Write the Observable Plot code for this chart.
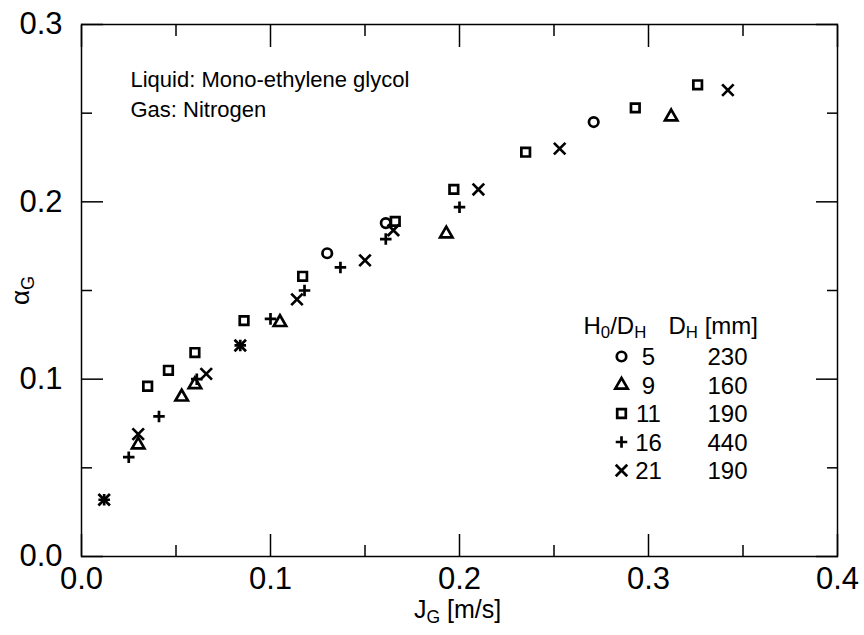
<!DOCTYPE html>
<html><head><meta charset="utf-8">
<script src="https://cdn.jsdelivr.net/npm/d3@7"></script>
<script src="https://cdn.jsdelivr.net/npm/@observablehq/plot@0.6"></script>
<style>
body{margin:0;background:#fff;}
#chart svg{font-family:"Liberation Sans",Arial,Helvetica,sans-serif;}
</style></head><body><div id="chart"></div>
<script>
// ---- data ----
const seriesKeys = ["5", "9", "11", "16", "21"];          // H0/DH
const seriesDH = ["230", "160", "190", "440", "190"];      // DH [mm]
const seriesSymbols = ["circle", "triangle", "square", "plus", "times"];

const jg_5 = [0.130, 0.161, 0.271];
const ag_5 = [0.171, 0.188, 0.245];
const jg_9 = [0.030, 0.053, 0.060, 0.105, 0.193, 0.312];
const ag_9 = [0.063, 0.090, 0.097, 0.132, 0.182, 0.248];
const jg_11 = [0.035, 0.046, 0.060, 0.086, 0.117, 0.166, 0.197, 0.235, 0.293, 0.326];
const ag_11 = [0.096, 0.105, 0.115, 0.133, 0.158, 0.189, 0.207, 0.228, 0.253, 0.266];
const jg_16 = [0.012, 0.025, 0.041, 0.061, 0.084, 0.100, 0.118, 0.137, 0.161, 0.200];
const ag_16 = [0.032, 0.056, 0.079, 0.100, 0.119, 0.134, 0.150, 0.163, 0.179, 0.197];
const jg_21 = [0.012, 0.030, 0.066, 0.084, 0.114, 0.150, 0.165, 0.210, 0.253, 0.342];
const ag_21 = [0.032, 0.069, 0.103, 0.119, 0.145, 0.167, 0.184, 0.207, 0.230, 0.263];

const xMajor = [0, 0.1, 0.2, 0.3, 0.4];
const xMinor = [0.05, 0.15, 0.25, 0.35];
const yMajor = [0, 0.1, 0.2, 0.3];
const yMinor = [0.05, 0.15, 0.25];

const annotationLines = ["Liquid: Mono-ethylene glycol", "Gas: Nitrogen"];
const xLabel = "J_G [m/s]";
const yLabel = "\u03b1_G";
const legendHeader1 = "H_0/D_H";
const legendHeader2 = "D_H [mm]";

// ---- build table ----
const xs = [jg_5, jg_9, jg_11, jg_16, jg_21];
const ys = [ag_5, ag_9, ag_11, ag_16, ag_21];
const points = [];
seriesKeys.forEach((k, i) => xs[i].forEach((x, j) => points.push({series: k, jg: x, ag: ys[i][j]})));

// ---- style / layout ----
const mL = 81, mR = 27, mT = 24, mB = 79;
const symR = {circle: 4.75, triangle: 4.6, square: 4.85, plus: 3.8, times: 5.3};
const symSW = 2.7;
const legendSymX = 621, legendNumX = 648, legendValX = 727;
const legendHeadBase = 333;
const legendRowBase = [364.5, 393, 421.5, 450, 478.5];
const legendFont = 24;

const marks = [Plot.frame({stroke: "black", strokeWidth: 1.5})];
const tk = (o) => ({strokeWidth: 1.5, label: null, ...o});
marks.push(
  Plot.axisX(tk({anchor: "bottom", ticks: xMajor, tickSize: -22, tickPadding: 32, tickFormat: d3.format(".1f"), fontSize: 31})),
  Plot.axisX(tk({anchor: "bottom", ticks: xMinor, tickSize: -11, tickFormat: () => ""})),
  Plot.axisX(tk({anchor: "top", ticks: xMajor, tickSize: -22, tickFormat: () => ""})),
  Plot.axisX(tk({anchor: "top", ticks: xMinor, tickSize: -11, tickFormat: () => ""})),
  Plot.axisY(tk({anchor: "left", ticks: yMajor, tickSize: -22, tickPadding: 41, tickFormat: d3.format(".1f"), fontSize: 31})),
  Plot.axisY(tk({anchor: "left", ticks: yMinor, tickSize: -11, tickFormat: () => ""})),
  Plot.axisY(tk({anchor: "right", ticks: yMajor, tickSize: -22, tickFormat: () => ""})),
  Plot.axisY(tk({anchor: "right", ticks: yMinor, tickSize: -11, tickFormat: () => ""}))
);

// data markers
seriesKeys.forEach((k, i) => {
  const s = seriesSymbols[i];
  marks.push(Plot.dot(points.filter(d => d.series === k), {
    x: "jg", y: "ag", symbol: () => s, r: symR[s], fill: "none", stroke: "black", strokeWidth: symSW
  }));
});

// axis labels
marks.push(
  Plot.text([xLabel], {frameAnchor: "bottom", dx: -2, dy: 61, lineAnchor: "bottom", textAnchor: "middle", fontSize: 25, fill: "black"}),
  Plot.text([yLabel], {frameAnchor: "left", dx: -61, rotate: -90, textAnchor: "middle", lineAnchor: "middle", fontSize: 26, fill: "black"})
);

// annotation
marks.push(
  Plot.text([annotationLines[0]], {frameAnchor: "top-left", dx: 49, dy: 86 - mT, textAnchor: "start", lineAnchor: "bottom", fontSize: 22, fill: "black"}),
  Plot.text([annotationLines[1]], {frameAnchor: "top-left", dx: 49, dy: 116 - mT, textAnchor: "start", lineAnchor: "bottom", fontSize: 22, fill: "black"})
);

// legend
marks.push(
  Plot.text([legendHeader1], {frameAnchor: "top-left", dx: 583 - mL, dy: legendHeadBase - mT, textAnchor: "start", lineAnchor: "bottom", fontSize: legendFont, fill: "black"}),
  Plot.text([legendHeader2], {frameAnchor: "top-left", dx: 668 - mL, dy: legendHeadBase - mT, textAnchor: "start", lineAnchor: "bottom", fontSize: legendFont, fill: "black"})
);
seriesKeys.forEach((k, i) => {
  const s = seriesSymbols[i];
  const b = legendRowBase[i];
  marks.push(
    Plot.dot([k], {frameAnchor: "top-left", dx: legendSymX - mL, dy: b - 8.5 - mT, symbol: () => s, r: symR[s], fill: "none", stroke: "black", strokeWidth: symSW}),
    Plot.text([k], {frameAnchor: "top-left", dx: legendNumX - mL, dy: b - mT, textAnchor: "middle", lineAnchor: "bottom", fontSize: legendFont, fill: "black"}),
    Plot.text([seriesDH[i]], {frameAnchor: "top-left", dx: legendValX - mL, dy: b - mT, textAnchor: "middle", lineAnchor: "bottom", fontSize: legendFont, fill: "black"})
  );
});

const svg = Plot.plot({
  width: 864, height: 635,
  marginLeft: mL, marginRight: mR, marginTop: mT, marginBottom: mB,
  x: {domain: [0, 0.4]},
  y: {domain: [0, 0.3]},
  style: {fontFamily: "'Liberation Sans', Arial, sans-serif", fontSize: "24px", color: "black", background: "white"},
  marks
});
document.getElementById("chart").appendChild(svg);

// subscripts
const NS = "http://www.w3.org/2000/svg";
svg.querySelectorAll("text").forEach(t => {
  const txt = t.textContent;
  if (txt.includes("_") && t.children.length === 0) {
    const fs = parseFloat(getComputedStyle(t).fontSize);
    const parts = txt.split(/_(\w)/);
    t.textContent = "";
    const shift = 0.2 * fs;
    parts.forEach((p, i) => {
      if (p === "") return;
      const ts = document.createElementNS(NS, "tspan");
      ts.textContent = p;
      if (i % 2 === 1) { ts.setAttribute("font-size", (0.7 * fs).toFixed(1)); ts.setAttribute("dy", shift.toFixed(1)); }
      else if (i > 0) ts.setAttribute("dy", (-shift).toFixed(1));
      t.appendChild(ts);
    });
  }
});
</script></body></html>
